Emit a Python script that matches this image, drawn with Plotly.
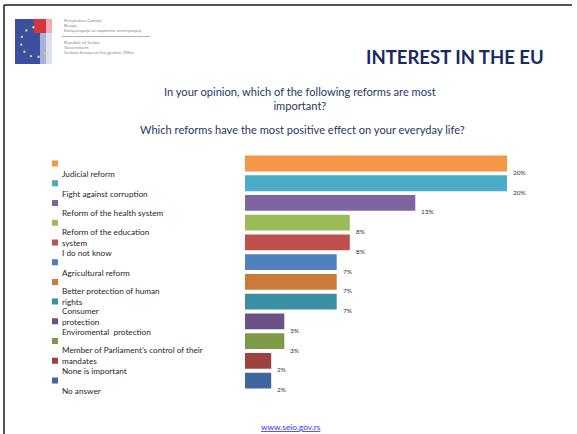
import math
import plotly.graph_objects as go

# Survey answers, in display order (top to bottom)
categories = [
    "Judicial reform",
    "Fight against corruption",
    "Reform of the health system",
    "Reform of the education<br>system",
    "I do not know",
    "Agricultural reform",
    "Better protection of human<br>rights",
    "Consumer<br>protection",
    "Enviromental  protection",
    "Member of Parliament's control of their<br>mandates",
    "None is important",
    "No answer",
]
values = [20, 20, 13, 8, 8, 7, 7, 7, 3, 3, 2, 2]
value_labels = ["20%", "20%", "13%", "8%", "8%", "7%", "7%", "7%", "3%", "3%", "2%", "2%"]
colors = [
    "#F79646", "#4BACC6", "#8064A2", "#9BBB59", "#C0504D", "#4F81BD",
    "#C97B38", "#3A8FA3", "#6A5187", "#7F9A47", "#9D433F", "#3F679C",
]

W, H = 577, 434
FONT = "Lato"
idx = list(range(len(categories)))

fig = go.Figure()

# Horizontal bars
fig.add_trace(go.Bar(
    x=values, y=idx, orientation="h",
    marker=dict(color=colors, line=dict(width=0)),
    width=0.8, hoverinfo="skip", showlegend=False,
    xaxis="x", yaxis="y",
))

# Colour keys on the left
fig.add_trace(go.Scatter(
    x=[55] * len(idx), y=idx, mode="markers",
    marker=dict(symbol="square", size=6, color=colors, line=dict(width=0)),
    hoverinfo="skip", showlegend=False,
    xaxis="x2", yaxis="y",
))

annotations = []
for i, (cat, v, lab) in enumerate(zip(categories, values, value_labels)):
    wrapped = "<br>" in cat
    annotations.append(dict(
        x=60, y=i, xref="x2", yref="y", text=cat, showarrow=False,
        xanchor="left", yanchor="top", yshift=-2 if wrapped else -3.5,
        align="left",
        font=dict(family=FONT, size=8.2, color="#262626"),
    ))
    annotations.append(dict(
        x=v, y=i, xref="x", yref="y", text=lab, showarrow=False,
        xanchor="left", yanchor="middle", xshift=4, yshift=-9,
        font=dict(family=FONT, size=6.5, color="#333333"),
    ))

# Slide heading and questions
annotations += [
    dict(x=455 / W, y=1 - 57 / H, xref="paper", yref="paper",
         text="<b>INTEREST IN THE EU</b>", showarrow=False,
         xanchor="center", yanchor="middle",
         font=dict(family=FONT, size=18.5, color="#172A62")),
    dict(x=300 / W, y=1 - 99 / H, xref="paper", yref="paper",
         text="In your opinion, which of the following reforms are most<br>important?",
         showarrow=False, xanchor="center", yanchor="middle",
         font=dict(family=FONT, size=11.1, color="#1F3864")),
    dict(x=302 / W, y=1 - 129 / H, xref="paper", yref="paper",
         text="Which reforms have the most positive effect on your everyday life?",
         showarrow=False, xanchor="center", yanchor="middle",
         font=dict(family=FONT, size=11.1, color="#1F3864")),
    dict(x=291 / W, y=1 - 427 / H, xref="paper", yref="paper",
         text="<u>www.seio.gov.rs</u>", showarrow=False,
         xanchor="center", yanchor="middle",
         font=dict(family=FONT, size=8.3, color="#3333FF")),
]

# Office header text next to the emblem
header_lines = [
    ("Република Србија", 21), ("Влада", 26),
    ("Канцеларија за европске интеграције", 31),
    ("Republic of Serbia", 42), ("Government", 47),
    ("Serbian European Integration Office", 52),
]
for txt, yy in header_lines:
    annotations.append(dict(
        x=62 / W, y=1 - yy / H, xref="paper", yref="paper", text=txt,
        showarrow=False, xanchor="left", yanchor="middle",
        font=dict(family=FONT, size=4.5, color="#8A8A8A"),
    ))

def px_rect(x0, y0, x1, y1, **kw):
    return dict(type="rect", xref="paper", yref="paper",
                x0=x0 / W, x1=x1 / W, y0=1 - y1 / H, y1=1 - y0 / H, **kw)

shapes = [
    # slide frame
    dict(type="line", xref="paper", yref="paper", x0=4 / W, x1=572 / W,
         y0=1 - 5 / H, y1=1 - 5 / H, line=dict(color="#1A1A1A", width=1.5)),
    dict(type="line", xref="paper", yref="paper", x0=4 / W, x1=4 / W,
         y0=0, y1=1 - 5 / H, line=dict(color="#1A1A1A", width=1.5)),
    # emblem: blue field, red corner, pale fade
    px_rect(15, 19, 52, 64, fillcolor="#3A4FA0", line=dict(width=0), layer="above"),
    px_rect(34, 19, 52, 33, fillcolor="#D8343E", line=dict(width=0), layer="above"),
    px_rect(40, 33, 52, 64, fillcolor="rgba(255,255,255,0.55)", line=dict(width=0), layer="above"),
    px_rect(46, 19, 52, 64, fillcolor="rgba(255,255,255,0.6)", line=dict(width=0), layer="above"),
    # separator in header text
    dict(type="line", xref="paper", yref="paper", x0=62 / W, x1=150 / W,
         y0=1 - 36.5 / H, y1=1 - 36.5 / H, line=dict(color="#A0A0A0", width=0.8)),
]
# ring of stars on the emblem
for k in range(8):
    a = math.radians(100 + k * 30)
    cx, cy = 36 + 15 * math.cos(a), 42 - 15 * math.sin(a)
    shapes.append(dict(type="circle", xref="paper", yref="paper",
                       x0=(cx - 1.2) / W, x1=(cx + 1.2) / W,
                       y0=1 - (cy + 1.2) / H, y1=1 - (cy - 1.2) / H,
                       fillcolor="#E8D25A", line=dict(width=0), layer="above"))

n = len(categories)
pitch = 19.73
top_px = 163.5 - 0.5 * pitch
bot_px = 163.5 + (n - 0.5) * pitch
xr_max = 22
x_end_px = 245 + xr_max * 13.1

fig.update_layout(
    width=W, height=H,
    margin=dict(l=0, r=0, t=0, b=0),
    paper_bgcolor="white", plot_bgcolor="rgba(0,0,0,0)",
    xaxis=dict(domain=[245 / W, x_end_px / W], range=[0, xr_max],
               visible=False, fixedrange=True),
    xaxis2=dict(domain=[0, 115 / W], range=[0, 115], anchor="y",
                visible=False, fixedrange=True),
    yaxis=dict(domain=[1 - bot_px / H, 1 - top_px / H],
               range=[n - 0.5, -0.5], visible=False, fixedrange=True),
    annotations=annotations,
    shapes=shapes,
    bargap=0.2,
)

fig.write_html("out.html")
